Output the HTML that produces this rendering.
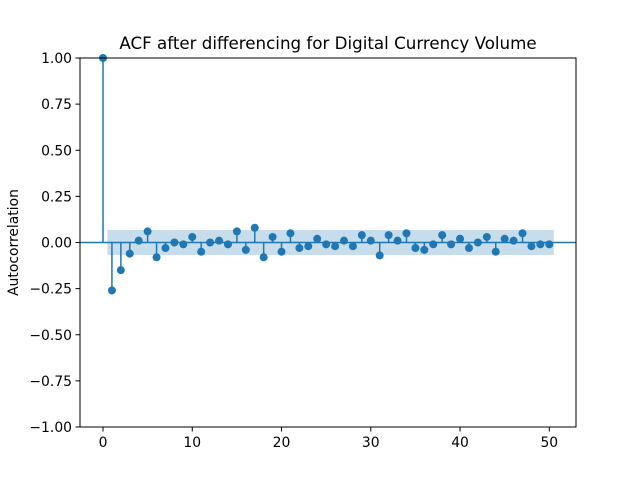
<!DOCTYPE html>
<html><head><meta charset="utf-8"><style>
body{margin:0;background:#fff}
text{font-family:"DejaVu Sans","Liberation Sans",sans-serif}
</style></head><body>
<svg id="chart" width="640" height="480" xmlns="http://www.w3.org/2000/svg">
<rect width="640" height="480" fill="#fff"/>
<g id="band"></g>
<g id="marks"></g>
<rect x="80" y="58" width="496" height="369" fill="none" stroke="#000" stroke-width="1"/>
<g id="xt"></g>
<g id="yt"></g>
<text x="328" y="49" text-anchor="middle" font-size="16.7">ACF after differencing for Digital Currency Volume</text>
<text transform="translate(18,242.5) rotate(-90)" text-anchor="middle" font-size="13.9">Autocorrelation</text>
</svg>
<script>
const lags=[0,1,2,3,4,5,6,7,8,9,10,11,12,13,14,15,16,17,18,19,20,21,22,23,24,25,26,27,28,29,30,31,32,33,34,35,36,37,38,39,40,41,42,43,44,45,46,47,48,49,50];
const acf=[1,-0.26,-0.15,-0.06,0.01,0.06,-0.08,-0.03,0.00,-0.01,0.03,-0.05,0.00,0.01,-0.01,0.06,-0.04,0.08,-0.08,0.03,-0.05,0.05,-0.03,-0.02,0.02,-0.01,-0.02,0.01,-0.02,0.04,0.01,-0.07,0.04,0.01,0.05,-0.03,-0.04,-0.01,0.04,-0.01,0.02,-0.03,0.00,0.03,-0.05,0.02,0.01,0.05,-0.02,-0.01,-0.01];
const bandStart=0.5, bandEnd=50.5, bandHalf=0.068;
const xTicks=[0,10,20,30,40,50];
const yTicks=[1,0.75,0.5,0.25,0,-0.25,-0.5,-0.75,-1];
const yLabels=["1.00","0.75","0.50","0.25","0.00","\u22120.25","\u22120.50","\u22120.75","\u22121.00"];
const X=v=>103+v*8.926, Y=v=>242.5-v*184.5;
const NS="http://www.w3.org/2000/svg";
function mk(t,a,p){const e=document.createElementNS(NS,t);for(const k in a)e.setAttribute(k,a[k]);p.appendChild(e);return e;}
const band=document.getElementById('band'),marks=document.getElementById('marks');
const br=mk('rect',{x:X(bandStart),y:Y(bandHalf),width:X(bandEnd)-X(bandStart),height:Y(-bandHalf)-Y(bandHalf),fill:'#1f77b4','fill-opacity':0.25},band);


const zl=mk('line',{x1:80,x2:576,y1:Y(0),y2:Y(0),stroke:'#1f77b4','stroke-width':1.5},marks);


lags.forEach((l,i)=>{
 const s=mk('line',{x1:X(l),x2:X(l),y1:Y(0),y2:Y(acf[i]),stroke:'#1f77b4','stroke-width':1.5},marks);
 
 
 const c=mk('circle',{cx:X(l),cy:Y(acf[i]),r:4,fill:'#1f77b4'},marks);
 
 
});
const xt=document.getElementById('xt'),yt=document.getElementById('yt');
xTicks.forEach(t=>{
 const l=mk('line',{x1:X(t),x2:X(t),y1:427,y2:431.5,stroke:'#000'},xt);
 
 
 const tx=mk('text',{x:X(t),y:447,'text-anchor':'middle','font-size':13.9},xt);tx.textContent=t;
 
 
});
yTicks.forEach((t,i)=>{
 const l=mk('line',{x1:75.5,x2:80,y1:Y(t),y2:Y(t),stroke:'#000'},yt);
 
 
 const tx=mk('text',{x:72,y:Y(t)+5,'text-anchor':'end','font-size':13.9},yt);tx.textContent=yLabels[i];
 
 
});
</script>
</body></html>
